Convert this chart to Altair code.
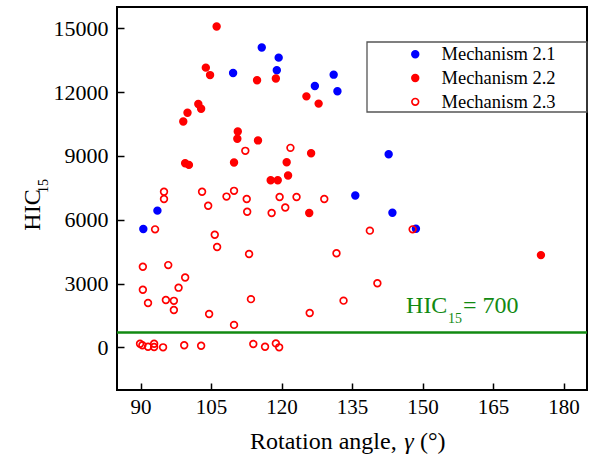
import altair as alt
import pandas as pd

FONT = "Liberation Serif"

mechs = ["Mechanism 2.1", "Mechanism 2.2", "Mechanism 2.3"]

m21_x = [115.8, 119.4, 119.0, 109.7, 131.1, 127.1, 131.9, 142.8, 135.7, 143.6, 148.6, 93.6, 90.6]
m21_y = [14100, 13620, 13030, 12900, 12820, 12290, 12040, 9080, 7140, 6330, 5580, 6430, 5570]

m22_x = [106.2, 103.9, 104.8, 102.3, 102.9, 100.0, 99.1, 110.7, 110.6, 99.5, 100.3, 109.9,
         114.8, 118.8, 125.3, 127.9, 115.0, 126.3, 121.1, 121.4, 117.7, 119.2, 125.9, 175.2]
m22_y = [15080, 13150, 12800, 11440, 11220, 11030, 10620, 10150, 9810, 8660, 8580, 8690,
         12560, 12640, 11800, 11460, 9730, 9130, 8700, 8080, 7860, 7860, 6320, 4340]

m23_x = [112.3, 121.9, 95.0, 95.0, 103.1, 108.3, 109.9, 112.6, 119.6, 123.2, 129.1, 104.4,
         112.7, 117.9, 120.8, 138.8, 147.9, 93.1, 105.8, 106.3, 113.1, 131.7, 90.5, 95.9,
         99.5, 98.1, 90.5, 91.6, 95.4, 97.1, 97.1, 104.6, 109.9, 140.4, 113.5, 133.2, 126.0,
         89.9, 90.4, 91.6, 92.9, 92.9, 94.8, 99.3, 102.9, 114.0, 116.5, 118.8, 119.5]
m23_y = [9240, 9380, 7320, 6980, 7320, 7090, 7360, 6980, 7070, 7070, 6980, 6660,
         6380, 6320, 6580, 5490, 5550, 5550, 5300, 4720, 4390, 4430, 3790, 3870,
         3290, 2810, 2710, 2090, 2230, 2190, 1760, 1570, 1060, 3020, 2270, 2200, 1620,
         170, 100, 30, 170, 20, 5, 100, 80, 160, 30, 190, 5]

x_ticks = [90, 105, 120, 135, 150, 165, 180]
y_ticks = [0, 3000, 6000, 9000, 12000, 15000]

threshold = [700]
annot_x = [146.5]
annot_y = [1620]

rows = []
for name, xs, ys in [(mechs[0], m21_x, m21_y), (mechs[1], m22_x, m22_y), (mechs[2], m23_x, m23_y)]:
    for a, h in zip(xs, ys):
        rows.append({"angle": a, "hic": h, "mech": name})
df = pd.DataFrame(rows)
df["ord"] = range(len(df))

x_scale = alt.Scale(domain=[85, 185], nice=False, zero=False)
y_scale = alt.Scale(domain=[-2000, 16000], nice=False, zero=False)

x_axis = alt.Axis(values=x_ticks, format="d", title=None, labelFontSize=21, labelPadding=6,
                  tickSize=7, tickWidth=1.5, offset=-7, domain=False, grid=False)
y_axis = alt.Axis(values=y_ticks, format="d", title=None, labelFontSize=22, labelPadding=9,
                  tickSize=7, tickWidth=1.5, offset=-7, domain=False, grid=False)

leg = alt.Legend(title=None, orient="none", legendX=289, legendY=38,
                 labelFontSize=18.5, labelOffset=17, rowPadding=4.8,
                 symbolSize=45, symbolStrokeWidth=1.7, padding=0)

line = alt.Chart(pd.DataFrame({"hic": threshold})).mark_rule(
    color="#128a12", strokeWidth=2.5).encode(y=alt.Y("hic:Q", scale=y_scale, axis=y_axis))

points = alt.Chart(df).mark_point(shape="circle", size=45, strokeWidth=1.7, opacity=1).encode(
    x=alt.X("angle:Q", scale=x_scale, axis=x_axis),
    y=alt.Y("hic:Q", scale=y_scale, axis=y_axis),
    fill=alt.Fill("mech:N", scale=alt.Scale(domain=mechs, range=["#0000ff", "#ff0000", "transparent"]), legend=leg),
    stroke=alt.Stroke("mech:N", scale=alt.Scale(domain=mechs, range=["#0000ff", "#ff0000", "#ff0000"]), legend=leg),
    order=alt.Order("ord:Q"),
)

annot_df = pd.DataFrame({"angle": annot_x, "hic": annot_y})
base_annot = alt.Chart(annot_df).encode(x=alt.X("angle:Q", scale=x_scale, axis=x_axis),
                                        y=alt.Y("hic:Q", scale=y_scale, axis=y_axis))
a1 = base_annot.mark_text(text="HIC", fontSize=24, color="#128a12", align="left", baseline="alphabetic")
a2 = base_annot.mark_text(text="15", fontSize=14, color="#128a12", align="left", baseline="alphabetic", dx=42, dy=10)
a3 = base_annot.mark_text(text="= 700", fontSize=24, color="#128a12", align="left", baseline="alphabetic", dx=57)

one = pd.DataFrame({"k": [0]})
t1 = alt.Chart(one).mark_text(text="HIC", fontSize=24, color="black", angle=270,
                              align="center", baseline="middle").encode(x=alt.value(-84), y=alt.value(203))
t2 = alt.Chart(one).mark_text(text="15", fontSize=14, color="black", angle=270,
                              align="center", baseline="middle").encode(x=alt.value(-73), y=alt.value(179))
xt1 = alt.Chart(one).mark_text(text="Rotation angle,", fontSize=24, color="black",
                               align="left", baseline="alphabetic").encode(x=alt.value(133), y=alt.value(442))
xt2 = alt.Chart(one).mark_text(text="γ", fontSize=24, color="black", fontStyle="italic",
                               align="center", baseline="alphabetic").encode(x=alt.value(292), y=alt.value(442))
xt3 = alt.Chart(one).mark_text(text="(°)", fontSize=24, color="black",
                               align="left", baseline="alphabetic").encode(x=alt.value(303), y=alt.value(442))

box = alt.Chart(one).mark_rect(fill="white", fillOpacity=0, stroke="#555555", strokeWidth=1.3).encode(
    x=alt.value(250), x2=alt.value(470), y=alt.value(35), y2=alt.value(105))

chart = alt.layer(line, points, a1, a2, a3, t1, t2, xt1, xt2, xt3, box).properties(
    width=470, height=383,
    padding={"left": 117, "top": 7, "right": 3, "bottom": 72},
    autosize=alt.AutoSizeParams(type="none"),
    background="white",
).configure_view(stroke="black", strokeWidth=2
).configure_axis(labelFont=FONT, labelColor="black", tickColor="black", titleFont=FONT
).configure_legend(labelFont=FONT, labelColor="black"
).configure_text(font=FONT)

chart.save("out.html", embed_options={"renderer": "svg", "actions": False})
